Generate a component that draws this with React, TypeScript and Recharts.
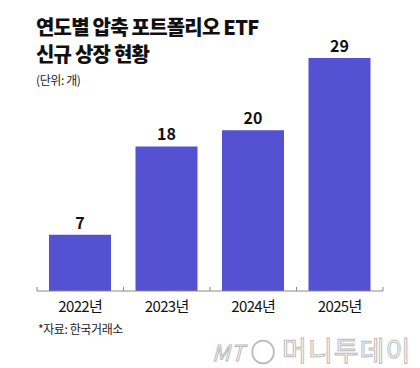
import { Bar, BarChart, LabelList, XAxis, YAxis } from "recharts";

const years = ["2022년", "2023년", "2024년", "2025년"];
const listings = [7, 18, 20, 29];

const data = years.map((year, i) => ({ year, count: listings[i] }));

const W = 420;
const H = 368;
const M = { top: 58, left: 37, right: 37, bottom: 47 };
const BAND = (W - M.left - M.right) / years.length;
const BAR_COLOR = "#5451d2";
const FONT = "'Noto Sans CJK KR', 'Noto Sans', sans-serif";

function YearTick(props: any) {
  const { x, y, payload, index } = props;
  return (
    <g>
      <line x1={x - BAND / 2} x2={x - BAND / 2} y1={y - 4} y2={y} stroke="#8a8a8a" />
      {index === years.length - 1 && (
        <line x1={x + BAND / 2} x2={x + BAND / 2} y1={y - 4} y2={y} stroke="#8a8a8a" />
      )}
      <text x={x} y={y + 21} textAnchor="middle" fontSize={15} fill="#111" fontFamily={FONT} letterSpacing={-0.6}>
        {payload.value}
      </text>
    </g>
  );
}

export default function App() {
  return (
    <div style={{ position: "absolute", left: 0, top: 0, width: W, height: H, background: "#fff", fontFamily: FONT, overflow: "hidden" }}>
      <div style={{ position: "absolute", left: 36, top: 13, fontSize: 20, fontWeight: 800, lineHeight: "27px", color: "#111", letterSpacing: -0.8 }}>
        연도별 압축 포트폴리오 ETF
        <br />
        신규 상장 현황
      </div>
      <div style={{ position: "absolute", left: 36, top: 71, fontSize: 12, color: "#222", letterSpacing: -0.4 }}>(단위: 개)</div>
      <BarChart width={W} height={H} data={data} margin={M}>
        <XAxis
          dataKey="year"
          axisLine={{ stroke: "#8a8a8a" }}
          tickLine={false}
          tickSize={0}
          tickMargin={0}
          height={30}
          tick={<YearTick />}
          interval={0}
        />
        <YAxis hide domain={[0, 29]} />
        <Bar dataKey="count" fill={BAR_COLOR} barSize={62} isAnimationActive={false}>
          <LabelList dataKey="count" position="top" offset={6} fontSize={16} fontWeight={700} fill="#111" fontFamily={FONT} />
        </Bar>
      </BarChart>
      <div style={{ position: "absolute", left: 38, top: 320, fontSize: 12, color: "#222", letterSpacing: -0.4 }}>*자료: 한국거래소</div>
      <div style={{ position: "absolute", left: 212, top: 330, fontSize: 27, color: "#fff", WebkitTextStroke: "1px #bbb", letterSpacing: 1, whiteSpace: "nowrap" }}>
        <span style={{ fontStyle: "italic", fontSize: 22 }}>MT</span>
        <span style={{ fontSize: 24, margin: "0 6px" }}>◯</span>
        머니투데이
      </div>
    </div>
  );
}
